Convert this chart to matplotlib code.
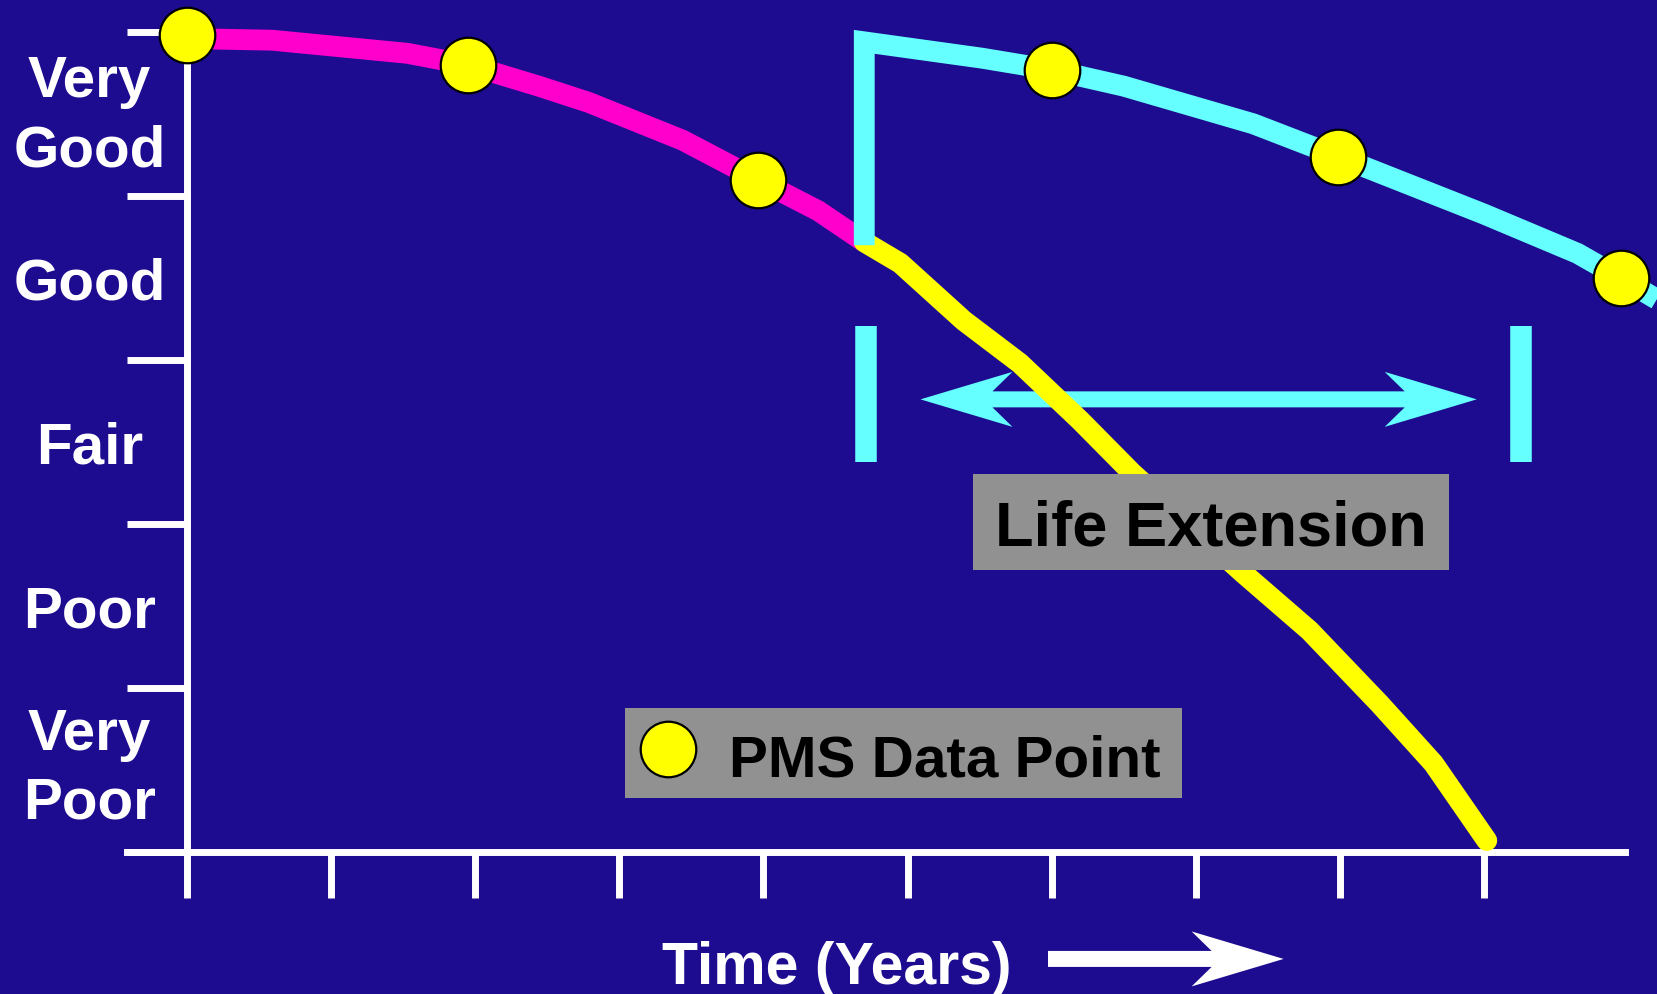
import matplotlib
matplotlib.use("Agg")
import matplotlib.pyplot as plt
from matplotlib.patches import Polygon, Rectangle

BG = "#1d0b90"
MAGENTA = "#ff00cc"
YELLOW = "#ffff00"
CYAN = "#66ffff"
GRAY = "#919191"
FONT = "Liberation Sans"

# condition scale (0 = bottom of Very Poor, 5 = top of Very Good)
cond_levels = [0, 1, 2, 3, 4, 5]
cond_labels = ["Very\nPoor", "Poor", "Fair", "Good", "Very\nGood"]
cond_label_pos = [0.584, 1.5, 2.5, 3.5, 4.565]
year_ticks = list(range(10))

# deterioration without treatment (magenta part, then yellow continuation)
magenta_x = [0.00, 0.59, 1.53, 1.95, 2.44, 2.79, 3.44, 3.96, 4.38, 4.70]
magenta_y = [4.96, 4.95, 4.87, 4.80, 4.67, 4.57, 4.34, 4.10, 3.91, 3.72]
yellow_x = [4.70, 4.95, 5.39, 5.78, 6.20, 6.56, 7.33, 7.79, 8.28, 8.65, 9.02]
yellow_y = [3.72, 3.59, 3.24, 2.98, 2.63, 2.31, 1.70, 1.35, 0.90, 0.54, 0.07]

# after rehabilitation
cyan_x = [4.70, 4.70, 5.52, 6.00, 6.50, 7.40, 7.99, 9.00, 9.65, 9.95, 10.20]
cyan_y = [3.70, 4.94, 4.84, 4.77, 4.67, 4.44, 4.24, 3.89, 3.65, 3.50, 3.37]

# PMS data points
pms_x = [0.00, 1.95, 3.96, 6.00, 7.99, 9.95]
pms_y = [4.98, 4.80, 4.10, 4.77, 4.24, 3.50]

# life extension span
ext_bars_x = [4.71, 9.26]
ext_bars_y = (2.38, 3.21)
ext_arrow_x = (5.09, 8.95)
ext_arrow_y = 2.76

PX_X = 144.1   # pixels per year
PX_Y = 164.0   # pixels per condition step


def notched_arrow(ax, x0, x1, y, color, double=False, head=92, notch=20,
                  half_h=27.5, shaft=8, zorder=3):
    hx, nx = head / PX_X, (head - notch) / PX_X
    hy, sy = half_h / PX_Y, shaft / PX_Y
    top = [(x1 - nx, y + sy), (x1 - hx, y + hy), (x1, y),
           (x1 - hx, y - hy), (x1 - nx, y - sy)]
    if double:
        left = [(x0 + nx, y - sy), (x0 + hx, y - hy), (x0, y),
                (x0 + hx, y + hy), (x0 + nx, y + sy)]
    else:
        left = [(x0, y - sy), (x0, y + sy)]
    ax.add_patch(Polygon(left + top, closed=True, facecolor=color,
                         edgecolor="none", zorder=zorder))


fig = plt.figure(figsize=(16.58, 9.94), dpi=100, facecolor=BG)
ax = fig.add_axes([0, 0, 1, 1])
ax.set_facecolor(BG)
ax.set_xlim(-187 / PX_X, (1658 - 187) / PX_X)
ax.set_ylim((852 - 994) / PX_Y, 852 / PX_Y)

for s in ["top", "right"]:
    ax.spines[s].set_visible(False)
ax.spines["left"].set_position(("data", 0))
ax.spines["bottom"].set_position(("data", 0))
ax.spines["left"].set_bounds(0, 5)
ax.spines["bottom"].set_bounds(-60 / PX_X, 9.98)
for s in ["left", "bottom"]:
    ax.spines[s].set_color("white")
    ax.spines[s].set_linewidth(5)

ax.set_xticks(year_ticks)
ax.set_xticklabels([])
ax.tick_params(axis="x", which="major", direction="out", length=33,
               width=5, color="white")
ax.set_yticks(cond_levels)
ax.set_yticklabels([])
ax.tick_params(axis="y", which="major", direction="out", length=43,
               width=5, color="white")
ax.set_yticks(cond_label_pos, minor=True)
ax.set_yticklabels(cond_labels, minor=True)
ax.tick_params(axis="y", which="minor", length=0, pad=70)
for lab in ax.get_yticklabels(minor=True):
    lab.set_ha("center")
    lab.set_multialignment("center")
    lab.set_color("white")
    lab.set_fontsize(42)
    lab.set_fontweight("bold")
    lab.set_family(FONT)
    lab.set_linespacing(1.35)

# life extension arrow and end bars
notched_arrow(ax, ext_arrow_x[0], ext_arrow_x[1], ext_arrow_y, CYAN,
              double=True, zorder=3)
for bx in ext_bars_x:
    ax.plot([bx, bx], ext_bars_y, color=CYAN, lw=15.5,
            solid_capstyle="butt", zorder=3)

ax.plot(magenta_x, magenta_y, color=MAGENTA, lw=15,
        solid_joinstyle="round", solid_capstyle="butt", zorder=4)
ax.plot(yellow_x, yellow_y, color=YELLOW, lw=15,
        solid_joinstyle="round", solid_capstyle="round", zorder=4)
ax.plot(cyan_x, cyan_y, color=CYAN, lw=15, solid_joinstyle="miter",
        solid_capstyle="butt", zorder=4.5)

ax.plot(pms_x, pms_y, "o", ms=40, mfc=YELLOW, mec="black", mew=1.6,
        zorder=6, clip_on=False)

# Life Extension label
ax.add_patch(Rectangle((5.455, 1.72), 8.758 - 5.455, 2.305 - 1.72,
                       facecolor=GRAY, edgecolor="none", zorder=7))
ax.text(7.106, 1.866, "Life Extension", ha="center", va="baseline",
        fontsize=45.5, fontweight="bold", family=FONT, color="black", zorder=8)

# legend box
ax.add_patch(Rectangle((3.04, 0.329), 6.905 - 3.04, 0.878 - 0.329,
                       facecolor=GRAY, edgecolor="none", zorder=7))
ax.plot([3.34], [0.63], "o", ms=40, mfc=YELLOW, mec="black", mew=1.6,
        zorder=8)
ax.text(3.76, 0.463, "PMS Data Point", ha="left", va="baseline",
        fontsize=42, fontweight="bold", family=FONT, color="black", zorder=8)

# x axis title with arrow
ax.text(4.51, -0.805, "Time (Years)", ha="center", va="baseline",
        fontsize=42.5, fontweight="bold", family=FONT, color="white")
notched_arrow(ax, 5.975, 7.61, -0.652, "white", double=False, zorder=3)

fig.savefig("out.png", dpi=100, facecolor=BG)
